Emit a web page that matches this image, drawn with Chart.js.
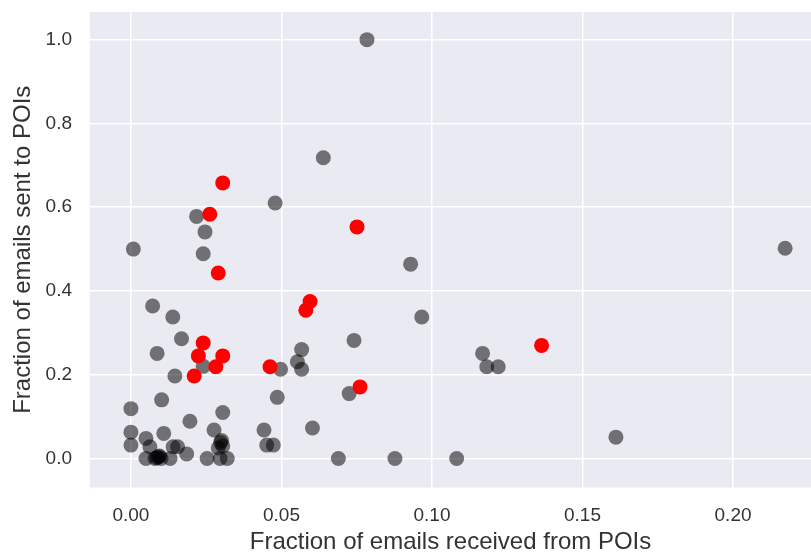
<!DOCTYPE html>
<html>
<head>
<meta charset="utf-8">
<script src="https://cdn.jsdelivr.net/npm/chart.js@4"></script>
<style>
  html, body { margin: 0; padding: 0; background: #ffffff; }
  #wrap { width: 811px; height: 554px; }
</style>
</head>
<body>
<div id="wrap"><canvas id="c" width="811" height="554"></canvas></div>
<script>
// Non-POI points: fraction received from POIs (x), fraction sent to POIs (y)
const nonPoiX = [0.0784, 0.0639, 0.0479, 0.0218, 0.0246, 0.0008, 0.0240, 0.2173, 0.0929, 0.0072,
  0.0139, 0.0966, 0.0168, 0.0741, 0.0087, 0.0567, 0.0553, 0.0567, 0.0497, 0.0240,
  0.1168, 0.1182, 0.1220, 0.0146, 0.0725, 0.0486, 0.0102, 0.0000, 0.0305, 0.0196,
  0.0603, 0.0442, 0.0276, 0.0000, 0.0050, 0.0109, 0.0000, 0.0301, 0.0290, 0.0155,
  0.0185, 0.0451, 0.0473, 0.1611, 0.0689, 0.0877, 0.1082, 0.0050, 0.0080, 0.0091,
  0.0100, 0.0130, 0.0253, 0.0296, 0.0320, 0.0063, 0.0140, 0.0086, 0.0095, 0.0298,
  0.0305];
const nonPoiY = [1.000, 0.718, 0.610, 0.578, 0.541, 0.500, 0.489, 0.502, 0.464, 0.364,
  0.338, 0.338, 0.286, 0.282, 0.251, 0.260, 0.231, 0.213, 0.213, 0.220,
  0.251, 0.219, 0.219, 0.197, 0.155, 0.146, 0.140, 0.119, 0.110, 0.089,
  0.073, 0.068, 0.068, 0.063, 0.048, 0.060, 0.032, 0.043, 0.025, 0.028,
  0.011, 0.032, 0.032, 0.051, 0.000, 0.000, 0.000, 0.000, 0.000, 0.004,
  0.000, 0.000, 0.000, 0.000, 0.000, 0.028, 0.028, 0.002, 0.006, 0.038,
  0.030];

// POI points
const poiX = [0.0305, 0.0262, 0.0290, 0.0751, 0.0595, 0.0581, 0.1364, 0.0761, 0.0462, 0.0240,
  0.0224, 0.0305, 0.0282, 0.0210];
const poiY = [0.658, 0.583, 0.443, 0.553, 0.375, 0.354, 0.270, 0.171, 0.219, 0.276,
  0.245, 0.245, 0.219, 0.197];

const xTicks = [0.00, 0.05, 0.10, 0.15, 0.20];
const yTicks = [0.0, 0.2, 0.4, 0.6, 0.8, 1.0];
const xTitle = 'Fraction of emails received from POIs';
const yTitle = 'Fraction of emails sent to POIs';

const toPts = (xs, ys) => xs.map((x, i) => ({ x: x, y: ys[i] }));

const bgPlugin = {
  id: 'plotBg',
  beforeDraw(chart) {
    const { ctx, chartArea: a } = chart;
    ctx.save();
    ctx.fillStyle = '#EAEAF2';
    ctx.fillRect(a.left, a.top, a.right - a.left, a.bottom - a.top);
    ctx.restore();
  }
};

const tickFont = { family: '"Liberation Sans", Arial, sans-serif', size: 19 };
const titleFont = { family: '"Liberation Sans", Arial, sans-serif', size: 24, lineHeight: 1 };

new Chart(document.getElementById('c'), {
  type: 'scatter',
  data: {
    datasets: [
      {
        label: 'POI',
        data: toPts(poiX, poiY),
        backgroundColor: '#ff0000',
        borderWidth: 0,
        pointRadius: 7.5,
        pointHoverRadius: 7.5
      },
      {
        label: 'non-POI',
        data: toPts(nonPoiX, nonPoiY),
        backgroundColor: 'rgba(0,0,0,0.52)',
        borderWidth: 0,
        pointRadius: 7.5,
        pointHoverRadius: 7.5
      }
    ]
  },
  options: {
    responsive: false,
    animation: false,
    devicePixelRatio: 1,
    layout: { autoPadding: false, padding: { top: 12, right: 0, left: 0, bottom: 0 } },
    plugins: { legend: { display: false }, tooltip: { enabled: false } },
    scales: {
      x: {
        type: 'linear',
        min: -0.0136,
        max: 0.2259,
        afterFit(s) { s.height = 66.5; s.paddingLeft = 0; s.paddingRight = 0; },
        afterBuildTicks(s) { s.ticks = xTicks.map(v => ({ value: v })); },
        grid: { color: '#ffffff', lineWidth: 1.5, drawTicks: false },
        border: { display: false },
        ticks: {
          font: tickFont, color: '#333333', padding: 17, maxRotation: 0,
          callback: v => Number(v).toFixed(2)
        },
        title: { display: true, text: xTitle, font: titleFont, color: '#333333', padding: { top: 0, bottom: 0 } }
      },
      y: {
        type: 'linear',
        min: -0.0692,
        max: 1.066,
        afterFit(s) { s.width = 90; s.paddingTop = 0; s.paddingBottom = 0; },
        afterBuildTicks(s) { s.ticks = yTicks.map(v => ({ value: v })); },
        grid: { color: '#ffffff', lineWidth: 1.5, drawTicks: false },
        border: { display: false },
        ticks: {
          font: tickFont, color: '#333333', padding: 18,
          callback: v => Number(v).toFixed(1)
        },
        title: { display: true, text: yTitle, font: titleFont, color: '#333333', padding: { top: 11, bottom: 0 } }
      }
    }
  },
  plugins: [bgPlugin]
});
</script>
</body>
</html>
